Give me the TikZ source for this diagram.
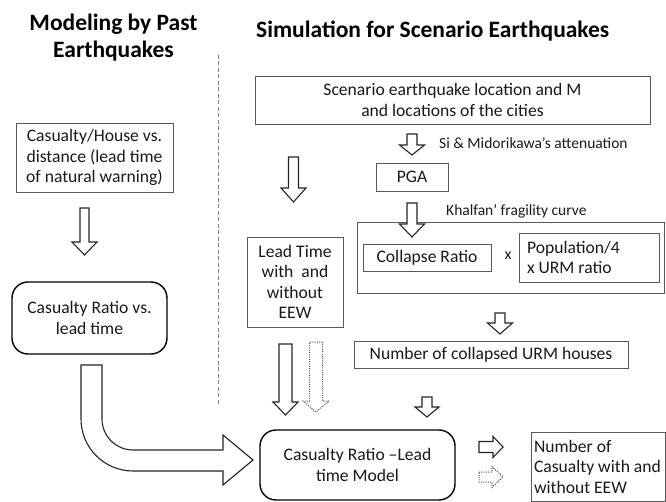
\documentclass[tikz,border=0pt]{standalone}
\usepackage{fontspec}
\setmainfont{Carlito}
\usetikzlibrary{calc}

\tikzset{
  box/.style={draw=black!65, line width=0.9pt, inner sep=0pt, align=center, text=black!90, font=\fontsize{17.6}{20.5}\selectfont},
  rbox/.style={box, draw=black, line width=1.4pt, rounded corners=16pt},
  blk/.style={draw=black!85, line width=1.1pt, fill=white, line join=miter},
  dotblk/.style={draw=black!70, line width=1pt, dash pattern=on 1pt off 1.3pt},
  lbl/.style={inner sep=0pt, anchor=west, text=black!90, font=\fontsize{15.5}{18}\selectfont},
  ttl/.style={inner sep=0pt, align=center, font=\bfseries\fontsize{23.5}{27}\selectfont},
}

% block arrow from tail #2 to tip #3: shaft half width #4, head half width #5, head length #6
\newcommand{\blockarrow}[6][]{%
  \coordinate (hd) at ($(#3)!#6!(#2)$);
  \draw[blk,#1] ($(#2)!#4!90:(#3)$) -- ($(hd)!#4!90:(#3)$) -- ($(hd)!#5!90:(#3)$) -- (#3)
    -- ($(hd)!#5!-90:(#3)$) -- ($(hd)!#4!-90:(#3)$) -- ($(#2)!#4!-90:(#3)$) -- cycle;}

\begin{document}
\begin{tikzpicture}[x=1pt,y=-1pt]
	\useasboundingbox (0,0) rectangle (666,502);

	% Titles of the two parts
	\node[ttl] (past) at (113.5,38) {Modeling by Past\\Earthquakes};
	\node[ttl, anchor=west] (sim) at (256,31) {Simulation for Scenario Earthquakes};

	% Dashed line between the two parts
	\coordinate (D1) at (218,55);
	\coordinate (D2) at (218,405);
	\draw[black!50, line width=0.9pt, dash pattern=on 4pt off 2.5pt] (D1) -- (D2);

	% Left part: modeling by past earthquakes
	\node[box, minimum width=157pt, minimum height=69pt] (house) at (94.5,157.5) {Casualty/House vs.\\distance (lead time\\of natural warning)};
	\node[rbox, minimum width=155pt, minimum height=72pt] (ratio) at (89.5,318) {Casualty Ratio vs.\\lead time};

	% Right part: simulation for scenario earthquakes
	\node[box, minimum width=395pt, minimum height=48pt] (scen) at (452.5,100) {Scenario earthquake location and M\\and locations of the cities};
	\node[box, minimum width=72pt, minimum height=28pt] (pga) at (412,177) {PGA};
	\node[lbl] (atten) at (439,143) {Si \& Midorikawa’s attenuation};
	\node[lbl] (frag) at (446,211) {Khalfan’ fragility curve};
	\node[box, minimum width=307pt, minimum height=71pt] (frame) at (510.5,257.5) {};
	\node[box, minimum width=128pt, minimum height=27pt] (collapse) at (427,257.5) {Collapse Ratio};
	\node[inner sep=0pt, text=black!90, font=\fontsize{16}{18}\selectfont] (times) at (508,256) {x};
	\node[box, align=flush left, inner xsep=8pt, text width=124pt, minimum height=49pt] (pop) at (589,257.5) {Population/4\\x URM ratio};
	\node[box, minimum width=96pt, minimum height=90pt] (lead) at (295,282) {Lead Time\\with\ \ and\\without\\EEW};
	\node[box, minimum width=274pt, minimum height=27pt] (urm) at (491,354.5) {Number of collapsed URM houses};
	\node[rbox, minimum width=195pt, minimum height=70pt] (model) at (357.5,465) {Casualty Ratio –Lead\\time Model};
	\node[box, align=flush left, inner xsep=3pt, text width=128pt, minimum height=69pt] (out) at (598,466.5) {Number of\\Casualty with and\\without EEW};

	% Tails (T) and tips (H) of the block arrows
	\coordinate (T1) at (84.5,208);   \coordinate (H1) at (84.5,255);
	\coordinate (T2) at (293.5,157);  \coordinate (H2) at (293.5,202);
	\coordinate (T3) at (412,134);    \coordinate (H3) at (412,155);
	\coordinate (T4) at (412,203);    \coordinate (H4) at (412,237);
	\coordinate (T5) at (500,313);    \coordinate (H5) at (500,334);
	\coordinate (T6) at (427,397);    \coordinate (H6) at (427,417);
	\coordinate (T7) at (285.5,344);  \coordinate (H7) at (285.5,415);
	\coordinate (T8) at (316,342);    \coordinate (H8) at (316,412);
	\coordinate (T9) at (479,447);    \coordinate (H9) at (503,447);
	\coordinate (T10) at (479,477);   \coordinate (H10) at (503,477);

	\blockarrow{T1}{H1}{4.5pt}{12.5pt}{13pt}
	\blockarrow{T2}{H2}{5pt}{12.5pt}{14pt}
	\blockarrow{T3}{H3}{5pt}{12.5pt}{10pt}
	\blockarrow{T4}{H4}{5pt}{12.5pt}{13pt}
	\blockarrow{T5}{H5}{5pt}{12.5pt}{11pt}
	\blockarrow{T6}{H6}{5pt}{12pt}{10pt}
	\blockarrow{T7}{H7}{6.5pt}{12.5pt}{13pt}
	\blockarrow[dotblk]{T8}{H8}{6.5pt}{13pt}{11pt}
	\blockarrow{T9}{H9}{5.5pt}{10.5pt}{10pt}
	\blockarrow[dotblk]{T10}{H10}{5pt}{10.5pt}{11pt}

	% Bent arrow from the casualty ratio to the model
	\draw[blk] (81,365) -- (102,365) -- (102,419) arc[start angle=180, end angle=90, radius=31]
		-- (223,450) -- (223,435) -- (253,460) -- (223,485) -- (223,471) -- (133,471)
		arc[start angle=90, end angle=180, radius=52] -- cycle;
\end{tikzpicture}
\end{document}
